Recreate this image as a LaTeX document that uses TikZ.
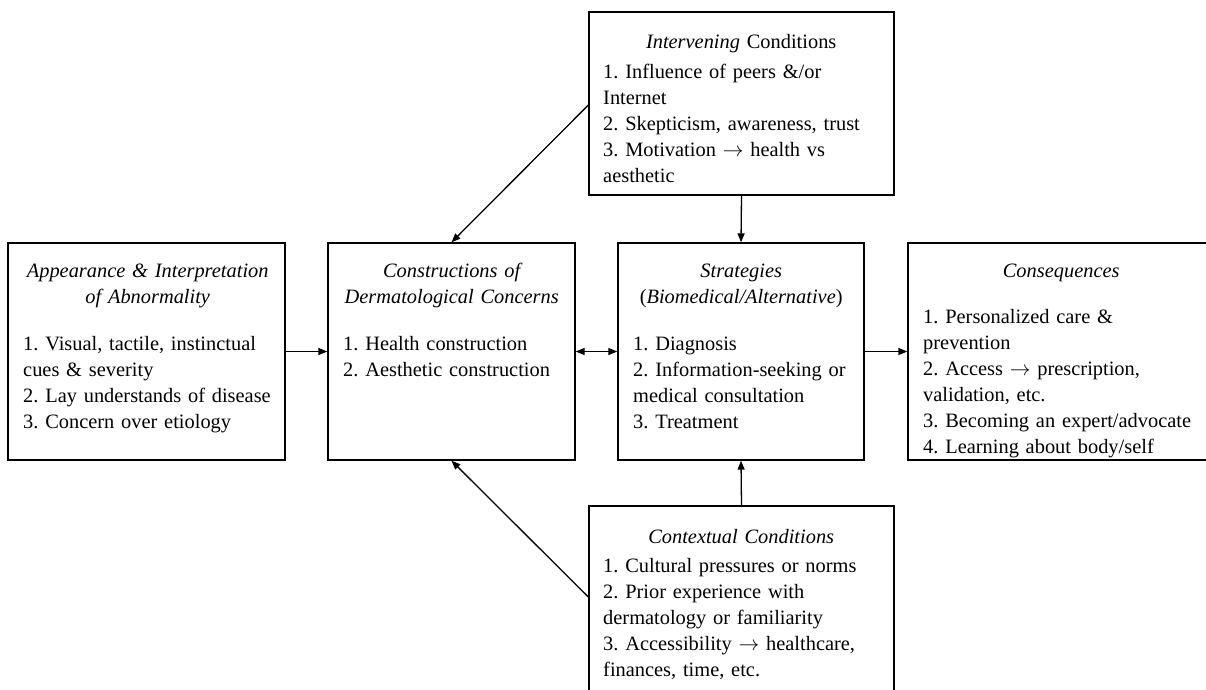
\documentclass[tikz,border=0pt]{standalone}
\usepackage{fontspec}
\setmainfont{Liberation Serif}
\usetikzlibrary{arrows.meta}
\newcommand{\toarrow}{\ensuremath{\rightarrow}}
\begin{document}
\frenchspacing
\begin{tikzpicture}[x=1pt,y=-1pt,
  box/.style={draw, line width=1.3pt, inner sep=0pt, rectangle},
  txt/.style={anchor=north west, inner sep=0pt,
    font=\fontsize{20.4pt}{26pt}\selectfont\frenchspacing},
  arr/.style={line width=1.3pt, -{Triangle[length=9pt,width=7pt]}},
  dblarr/.style={line width=1.3pt, {Triangle[length=9pt,width=7pt]}-{Triangle[length=9pt,width=7pt]}}]
\useasboundingbox (0,0) rectangle (1206,689);
\clip (0,0) rectangle (1206,689);

% boxes
\node[box, minimum width=277pt, minimum height=217pt] (A) at (146.5,351.5) {};
\node[box, minimum width=247pt, minimum height=217pt] (B) at (451.5,351.5) {};
\node[box, minimum width=246pt, minimum height=217pt] (C) at (741,351.5) {};
\node[box, minimum width=306pt, minimum height=217pt] (D) at (1061,351.5) {};
\node[box, minimum width=305pt, minimum height=183pt] (T) at (741.5,103.5) {};
\node[box, minimum width=305pt, minimum height=194pt] (U) at (741.5,603) {};

% box texts
\node[txt, text width=249pt] (Atxt) at (23,259) {%
  {\centering\itshape\rule{0pt}{18pt}Appearance \& Interpretation\\ of Abnormality\par}
  \vspace{21pt}\raggedright
  1. Visual, tactile, instinctual\\ cues \& severity\\ 2. Lay understands of disease\\ 3. Concern over etiology\par};

\node[txt, text width=217pt] (Btxt) at (343,259) {%
  {\centering\itshape\rule{0pt}{18pt}Constructions of\\ Dermatological Concerns\par}
  \vspace{21pt}\raggedright
  1. Health construction\\ 2. Aesthetic construction\par};

\node[txt, text width=216pt] (Ctxt) at (633,259) {%
  {\centering\rule{0pt}{18pt}\textit{Strategies}\\ (\textit{Biomedical/Alternative})\par}
  \vspace{21pt}\raggedright
  1. Diagnosis\\ 2. Information-seeking or\\ medical consultation\\ 3. Treatment\par};

\node[txt, text width=276pt] (Dtxt) at (923,259) {%
  {\centering\itshape\rule{0pt}{18pt}Consequences\par}
  \vspace{20pt}\raggedright
  1. Personalized care \&\\ prevention\\ 2. Access \toarrow{} prescription,\\ validation, etc.\\ 3. Becoming an expert/advocate\\ 4. Learning about body/self\par};

\node[txt, text width=276pt] (Ttxt) at (603,30) {%
  {\centering\rule{0pt}{18pt}\textit{Intervening} Conditions\par}
  \vspace{4pt}\raggedright
  1. Influence of peers \&/or\\ Internet\\ 2. Skepticism, awareness, trust\\ 3. Motivation \toarrow{} health vs\\ aesthetic\par};

\node[txt, text width=276pt] (Utxt) at (603,525) {%
  {\centering\itshape\rule{0pt}{18pt}Contextual Conditions\par}
  \vspace{3pt}\raggedright
  1. Cultural pressures or norms\\ 2. Prior experience with\\ dermatology or familiarity\\ 3. Accessibility \toarrow{} healthcare,\\ finances, time, etc.\par};

% connectors
\draw[arr] (A.east) -- (B.west);
\draw[dblarr] (B.east) -- (C.west);
\draw[arr] (C.east) -- (D.west);
\draw[arr] (T.south) -- (C.north);
\draw[arr] (U.north) -- (C.south);
\draw[arr] ([yshift=-1.5pt]T.west) -- (B.north);
\draw[arr] ([yshift=6pt]U.west) -- (B.south);
\end{tikzpicture}
\end{document}
